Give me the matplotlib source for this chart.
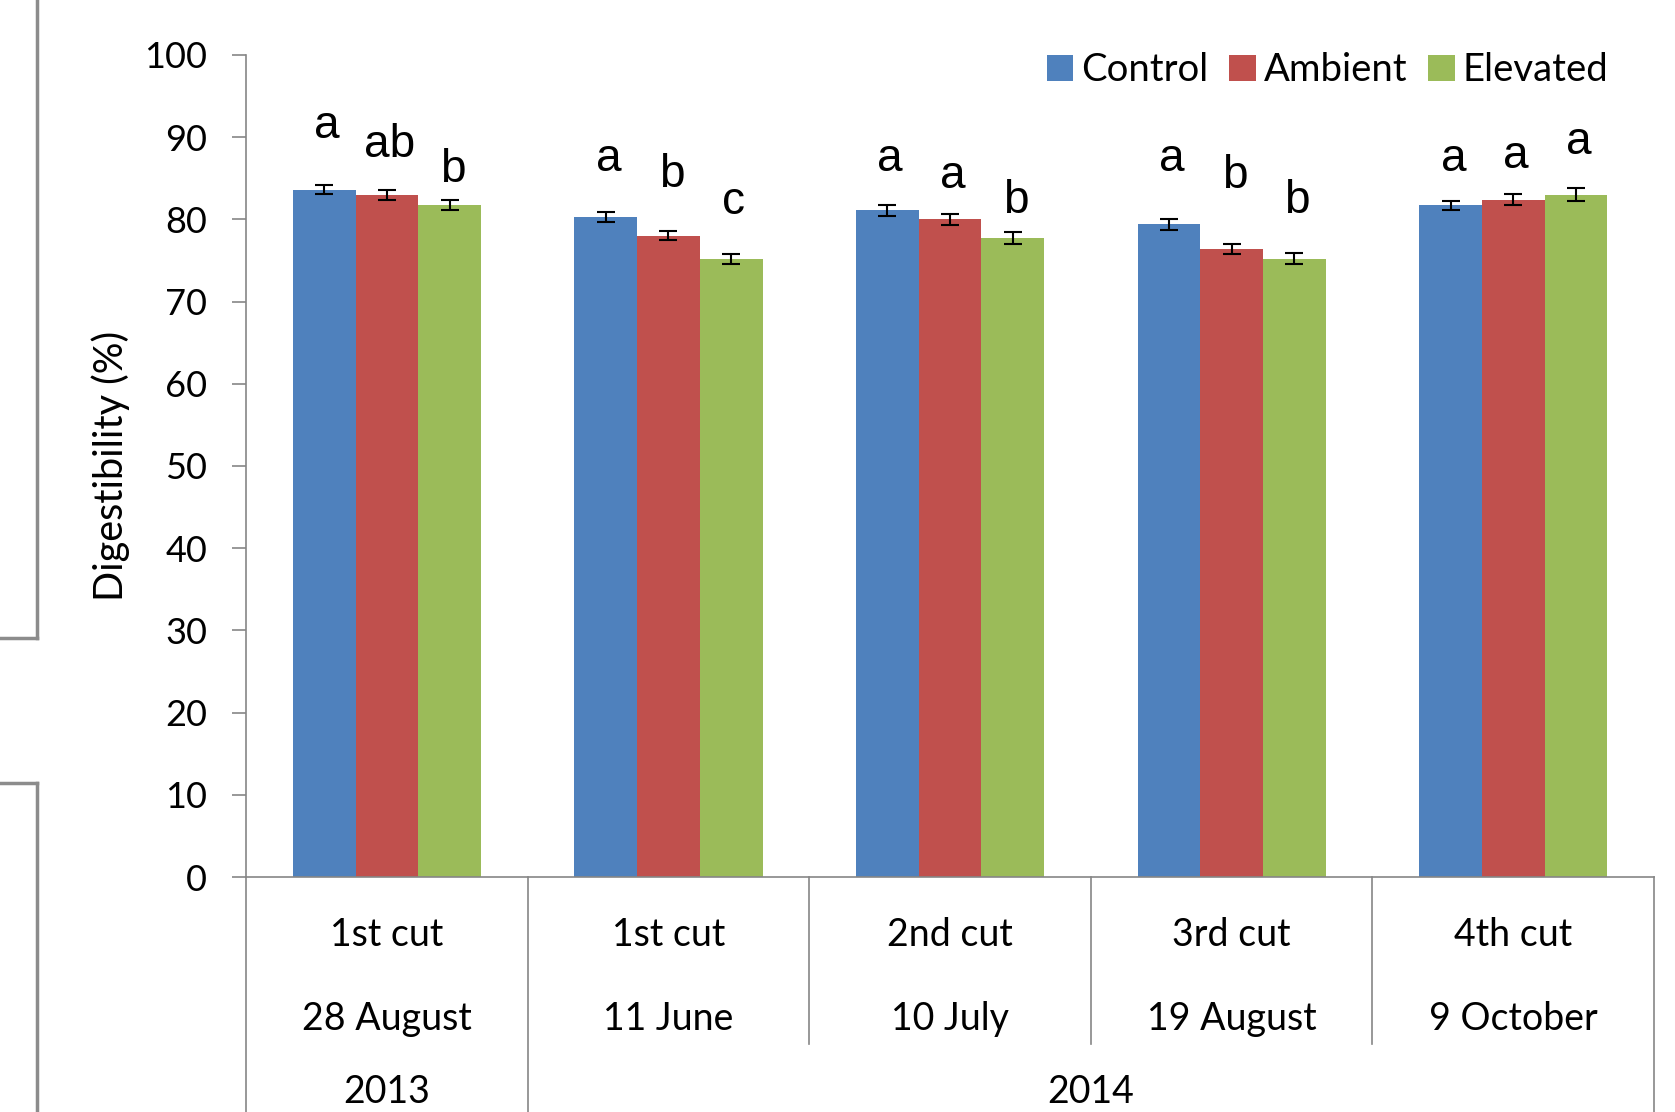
import matplotlib
matplotlib.use("Agg")
import matplotlib.pyplot as plt
import matplotlib.transforms as mtransforms
from matplotlib.lines import Line2D
import numpy as np

# data
cuts = ['1st cut', '1st cut', '2nd cut', '3rd cut', '4th cut']
dates = ['28 August', '11 June', '10 July', '19 August', '9 October']
years = ['2013', '2014']
year_groups = [[0], [1, 2, 3, 4]]

series = ['Control', 'Ambient', 'Elevated']
control = [83.6, 80.3, 81.1, 79.4, 81.7]
ambient = [83.0, 78.0, 80.0, 76.4, 82.4]
elevated = [81.7, 75.2, 77.7, 75.2, 83.0]
control_err = [0.55, 0.57, 0.65, 0.65, 0.58]
ambient_err = [0.6, 0.55, 0.65, 0.65, 0.65]
elevated_err = [0.6, 0.63, 0.75, 0.65, 0.77]

control_letters = ['a', 'a', 'a', 'a', 'a']
ambient_letters = ['ab', 'b', 'a', 'b', 'a']
elevated_letters = ['b', 'c', 'b', 'b', 'a']
control_letter_y = [89.9, 85.9, 85.9, 85.9, 85.9]
ambient_letter_y = [87.6, 83.9, 83.8, 83.8, 86.2]
elevated_letter_y = [84.6, 80.6, 80.8, 80.8, 88.0]

colors = ['#4F81BD', '#C0504D', '#9BBB59']
grey = '#868686'
cal = 'Lato'

fig = plt.figure(figsize=(16.75, 11.12), dpi=100)
ax = fig.add_axes([0.1469, 0.2113, 0.9875 - 0.1469, 0.9506 - 0.2113])

x = np.arange(len(cuts))
w = 0.2227
vals = [control, ambient, elevated]
errs = [control_err, ambient_err, elevated_err]
letters = [control_letters, ambient_letters, elevated_letters]
letter_y = [control_letter_y, ambient_letter_y, elevated_letter_y]

for k in range(3):
    xs = x + (k - 1) * w
    ax.bar(xs, vals[k], width=w, color=colors[k], label=series[k], zorder=2)
    ax.errorbar(xs, vals[k], yerr=errs[k], fmt='none', ecolor='black',
                elinewidth=1.5, capsize=6.5, capthick=1.5, zorder=3)
    for xi, lt, ly in zip(xs, letters[k], letter_y[k]):
        ax.text(xi + 0.01, ly, lt, ha='center', va='baseline', fontsize=33,
                family='Liberation Sans')

ax.set_xlim(-0.5, len(cuts) - 0.5)
ax.set_ylim(0, 100)
ax.set_yticks(range(0, 101, 10))
ax.tick_params(axis='y', direction='out', length=10, width=1.2, color=grey,
               pad=18, labelsize=26)
for lab in ax.get_yticklabels():
    lab.set_family(cal)
ax.set_xticks([])
for s in ['top', 'right']:
    ax.spines[s].set_visible(False)
ax.spines['left'].set_color(grey)
ax.spines['bottom'].set_color(grey)
ax.spines['left'].set_linewidth(1.2)
ax.spines['bottom'].set_linewidth(1.2)

ax.set_ylabel('Digestibility (%)', fontsize=28.5, family=cal, labelpad=10)

# multi-level category axis
trans = mtransforms.blended_transform_factory(ax.transData, ax.transAxes)
bounds = np.arange(len(cuts) + 1) - 0.5
long_b = [bounds[0], bounds[-1]] + [bounds[g[0]] for g in year_groups]
for b in bounds:
    y_end = -0.30 if b in long_b else -0.2034
    ax.plot([b, b], [0, y_end], color=grey, lw=1.2, transform=trans,
            clip_on=False)
for i in range(len(cuts)):
    ax.text(x[i], -0.071, cuts[i], transform=trans, ha='center', va='center',
            fontsize=27, family=cal)
    ax.text(x[i], -0.173, dates[i], transform=trans, ha='center', va='center',
            fontsize=27, family=cal)
for yr, g in zip(years, year_groups):
    ax.text(np.mean([x[i] for i in g]), -0.262, yr, transform=trans,
            ha='center', va='center', fontsize=27, family=cal)

leg = ax.legend(loc='upper right', bbox_to_anchor=(0.992, 1.045), ncol=3,
                frameon=False, fontsize=27.5, handlelength=0.7,
                handleheight=0.7, handletextpad=0.2, columnspacing=0.55)
for t in leg.get_texts():
    t.set_family(cal)

# leftover frame pieces at the left edge
fx = 37.4 / 1675
y1 = 1 - 637.6 / 1112
y2 = 1 - 783 / 1112
fig.add_artist(Line2D([fx, fx], [1, y1], color='#8c8c8c', lw=2.5))
fig.add_artist(Line2D([0, fx], [y1, y1], color='#8c8c8c', lw=2.5))
fig.add_artist(Line2D([fx, fx], [0, y2], color='#8c8c8c', lw=2.5))
fig.add_artist(Line2D([0, fx], [y2, y2], color='#8c8c8c', lw=2.5))

fig.savefig('out.png', dpi=100)
